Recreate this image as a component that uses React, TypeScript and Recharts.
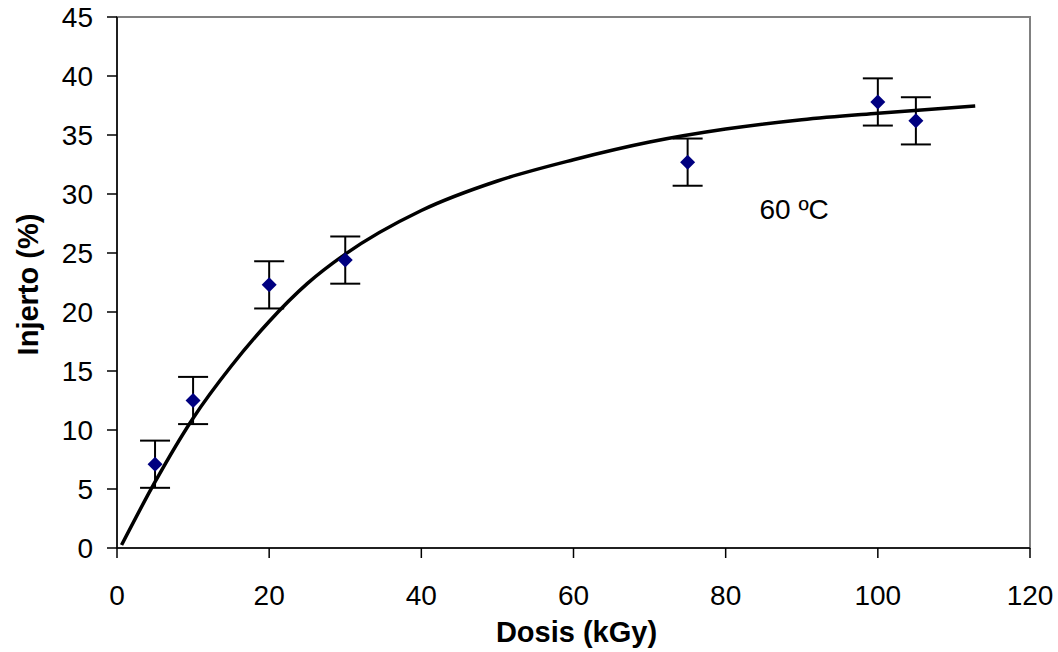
import React from "react";
import {
  ComposedChart,
  Line,
  Scatter,
  ErrorBar,
  XAxis,
  YAxis,
  ReferenceArea,
  ReferenceDot,
} from "recharts";

// measured points (dose kGy, graft %, error)
const doses = [5, 10, 20, 30, 75, 100, 105];
const grafts = [7.1, 12.5, 22.3, 24.4, 32.7, 37.8, 36.2];
const errors = [2, 2, 2, 2, 2, 2, 2];

// trend curve
const curveX = [0.6, 5, 10, 15, 20, 25, 30, 40, 50, 60, 70, 80, 90, 100, 112.8];
const curveY = [0.25, 5.6, 11.0, 15.4, 19.2, 22.4, 24.9, 28.6, 31.1, 32.9, 34.4, 35.5, 36.3, 36.85, 37.46];

const xTicks = [0, 20, 40, 60, 80, 100, 120];
const yTicks = [0, 5, 10, 15, 20, 25, 30, 35, 40, 45];

const points = doses.map((d, i) => ({ x: d, y: grafts[i], err: errors[i] }));
const curve = curveX.map((x, i) => ({ x, fit: curveY[i] }));

const FONT = "'Liberation Sans', Arial, sans-serif";

const Diamond = (props: any) => {
  const { cx, cy } = props;
  const r = 7.5;
  return (
    <polygon
      points={`${cx},${cy - r} ${cx + r},${cy} ${cx},${cy + r} ${cx - r},${cy}`}
      fill="#000080"
    />
  );
};

export default function App() {
  const tickStyle = { fontSize: 28, fill: "#000", fontFamily: FONT };
  const titleStyle = { fontSize: 29, fontWeight: "bold", fill: "#000", fontFamily: FONT };
  return (
    <div style={{ position: "absolute", left: 0, top: 0, background: "#fff" }}>
      <ComposedChart
        width={1058}
        height={652}
        margin={{ top: 17, right: 28, bottom: 0, left: 0 }}
      >
        <ReferenceArea
          x1={0}
          x2={120}
          y1={0}
          y2={45}
          fill="none"
          stroke="#808080"
          strokeWidth={2}
        />
        <XAxis
          type="number"
          dataKey="x"
          domain={[0, 120]}
          ticks={xTicks}
          height={104}
          tickSize={10}
          tickMargin={27}
          tick={tickStyle}
          stroke="#000"
          strokeWidth={1.5}
          allowDataOverflow
          label={{
            value: "Dosis (kGy)",
            position: "center",
            dx: 3,
            dy: 32,
            style: titleStyle,
          }}
        />
        <YAxis
          type="number"
          domain={[0, 45]}
          ticks={yTicks}
          width={117}
          tickSize={10}
          tickMargin={14}
          tick={tickStyle}
          stroke="#000"
          strokeWidth={1.5}
          allowDataOverflow
          label={{
            value: "Injerto (%)",
            position: "center",
            angle: -90,
            dx: -31,
            dy: 2,
            style: titleStyle,
          }}
        />
        <Line
          data={curve}
          dataKey="fit"
          type="monotone"
          stroke="#000"
          strokeWidth={3.5}
          dot={false}
          activeDot={false}
          isAnimationActive={false}
        />
        <Scatter
          data={points}
          dataKey="y"
          shape={<Diamond />}
          isAnimationActive={false}
        >
          <ErrorBar
            dataKey="err"
            direction="y"
            width={15}
            stroke="#000"
            strokeWidth={2}
            isAnimationActive={false}
          />
        </Scatter>
        <ReferenceDot
          x={89}
          y={28.7}
          r={0}
          fill="none"
          stroke="none"
          label={{
            value: "60 ºC",
            position: "center",
            style: { fontSize: 28, fill: "#000", fontFamily: FONT },
          }}
        />
      </ComposedChart>
    </div>
  );
}
